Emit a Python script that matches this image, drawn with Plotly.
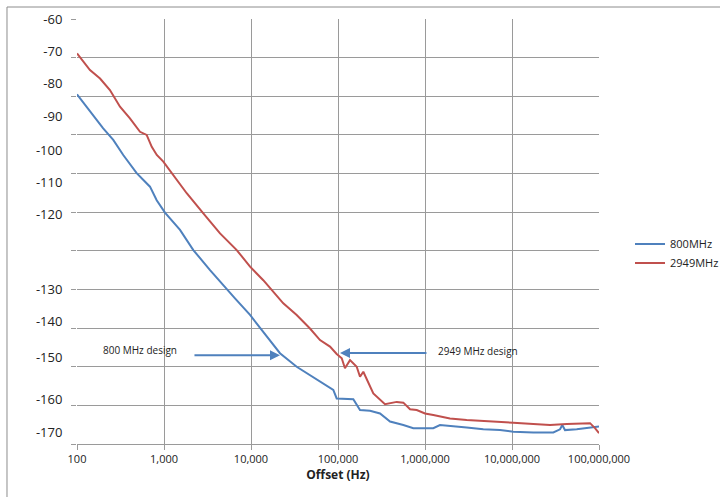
import plotly.graph_objects as go

# ---- data (offset in Hz, phase noise in dBc/Hz on the gridline scale) ----
x_800 = [100, 141, 200, 261, 340, 485, 690, 824, 1026, 1528, 2173, 3381, 5260, 6546,
         9750, 13840, 21530, 33500, 47640, 67760, 88310, 96600, 125900, 150000, 179100,
         233300, 304100, 396300, 563600, 734500, 877000, 1245000, 1486000, 1936000,
         3013000, 4677000, 7278000, 10350000, 17580000, 29850000, 35650000, 37840000,
         40640000, 55460000, 78890000, 100000000]
y_800 = [-79.5, -84.0, -88.3, -91.3, -95.2, -99.9, -103.4, -106.9, -110.1, -114.6, -119.8,
         -125.0, -129.7, -132.3, -136.6, -140.9, -146.5, -150.0, -152.1, -154.3, -156.0,
         -158.2, -158.4, -158.4, -161.2, -161.4, -162.1, -164.2, -165.1, -165.9, -165.9,
         -165.9, -165.1, -165.3, -165.7, -166.2, -166.4, -166.8, -167.0, -167.0, -166.2,
         -165.1, -166.4, -166.2, -165.7, -165.5]

x_2949 = [100, 141, 184, 239, 312, 406, 530, 632, 723, 826, 982, 1824, 2831, 4406, 6855,
          9750, 13836, 23500, 33500, 47640, 62100, 80900, 96600, 110400, 120200, 137400,
          164100, 179100, 195400, 233300, 254700, 346700, 473200, 563600, 673000, 803500,
          1000000, 1245000, 1936000, 3013000, 4677000, 7278000, 10350000, 17580000,
          27350000, 42560000, 78890000, 89950000, 100000000]
y_2949 = [-68.9, -73.2, -75.4, -78.4, -82.7, -85.7, -89.2, -90.0, -93.1, -95.2, -96.9,
          -105.1, -110.3, -115.5, -119.8, -124.1, -127.6, -133.6, -136.6, -140.1, -143.1,
          -144.8, -146.7, -147.8, -150.4, -148.3, -150.0, -152.6, -151.3, -155.2, -156.9,
          -159.7, -159.1, -159.3, -161.0, -161.2, -162.1, -162.5, -163.4, -163.8, -164.0,
          -164.2, -164.5, -164.8, -165.1, -164.8, -164.6, -165.9, -167.2]

series_names = ["800MHz", "2949MHz"]

x_tick_vals = [100, 1000, 10000, 100000, 1000000, 10000000, 100000000]
x_tick_text = ["100", "1,000", "10,000", "100,000", "1,000,000", "10,000,000", "100,000,000"]
x_grid_vals = [1000, 10000, 100000, 1000000, 10000000, 100000000]

y_grid_vals = [-60, -70, -80, -90, -100, -110, -120, -130, -140, -150, -160, -170]
y_label_text = ["-60", "-70", "-80", "-90", "-100", "-110", "-120",
                "-130", "-140", "-150", "-160", "-170"]
# where the (hand-placed) labels sit on the chart, in axis units
y_label_pos = [-60.0, -68.5, -76.6, -85.1, -93.9, -102.3, -110.6,
               -129.9, -138.3, -147.6, -158.4, -167.0]

annot_text = ["800 MHz design", "2949 MHz design"]

# ---- styling ----
BLUE = "#4f81bd"
RED = "#c0504d"
GRID = "#9a9a9a"
FONT = "Open Sans"
TXT = "#222222"

fig = go.Figure()
fig.add_trace(go.Scatter(x=x_800, y=y_800, mode="lines", name=series_names[0],
                         line=dict(color=BLUE, width=2)))
fig.add_trace(go.Scatter(x=x_2949, y=y_2949, mode="lines", name=series_names[1],
                         line=dict(color=RED, width=2)))
# invisible trace to activate the label axes
fig.add_trace(go.Scatter(x=[100], y=[-60], xaxis="x2", yaxis="y2", mode="markers",
                         marker=dict(opacity=0), showlegend=False, hoverinfo="skip"))

fig.update_layout(
    width=720, height=497,
    margin=dict(l=77, r=121, t=19, b=53, autoexpand=False),
    paper_bgcolor="white", plot_bgcolor="white",
    font=dict(family=FONT, color=TXT, size=11),
    showlegend=True,
    legend=dict(x=1.0594, y=0.505, xanchor="left", yanchor="top",
                font=dict(size=11, color=TXT), bgcolor="rgba(0,0,0,0)",
                tracegroupgap=0),
    xaxis=dict(type="log", range=[2, 8], tickvals=x_grid_vals, showticklabels=False,
               showgrid=True, gridcolor=GRID, gridwidth=1,
               ticks="outside", ticklen=5, tickcolor=GRID,
               showline=True, linecolor=GRID, linewidth=1, zeroline=False),
    xaxis2=dict(type="log", range=[2, 8], overlaying="x", side="bottom", anchor="y",
                tickvals=x_tick_vals, ticktext=x_tick_text, showgrid=False,
                ticks="outside", ticklen=5, tickcolor=GRID, zeroline=False,
                tickfont=dict(size=11, color=TXT),
                title=dict(text="<b>Offset (Hz)</b>", font=dict(size=12, color=TXT),
                           standoff=4)),
    yaxis=dict(range=[-170, -60], tickvals=y_grid_vals, showticklabels=False,
               showgrid=True, gridcolor=GRID, gridwidth=1.3,
               ticks="outside", ticklen=5, tickcolor=GRID, zeroline=False),
    yaxis2=dict(range=[-170, -60], overlaying="y", side="left", anchor="x",
                tickvals=y_label_pos, ticktext=y_label_text,
                showgrid=False, zeroline=False, ticks="outside", ticklen=11,
                tickcolor="rgba(0,0,0,0)", tickfont=dict(size=13, color=TXT)),
)

# chart area border (top and left visible)
fig.add_shape(type="line", xref="paper", yref="paper", x0=-0.1341, x1=1.25,
              y0=1.0282, y1=1.0282, line=dict(color="#8c8c8c", width=1))
fig.add_shape(type="line", xref="paper", yref="paper", x0=-0.1341, x1=-0.1341,
              y0=1.0282, y1=-0.2, line=dict(color="#8c8c8c", width=1))

# design annotations with arrows
fig.add_annotation(x=4.333, y=-147.0, ax=3.333, ay=-147.0, xref="x", yref="y",
                   axref="x", ayref="y", text="", showarrow=True, arrowhead=2,
                   arrowsize=1, arrowwidth=2, arrowcolor=BLUE)
fig.add_annotation(x=2.724, y=-145.7, xref="x", yref="y", text=annot_text[0],
                   showarrow=False, font=dict(size=10, color=TXT))
fig.add_annotation(x=5.023, y=-146.45, ax=6.034, ay=-146.45, xref="x", yref="y",
                   axref="x", ayref="y", text="", showarrow=True, arrowhead=2,
                   arrowsize=1, arrowwidth=2, arrowcolor=BLUE)
fig.add_annotation(x=6.609, y=-145.9, xref="x", yref="y", text=annot_text[1],
                   showarrow=False, font=dict(size=10, color=TXT))

fig.write_html("out.html")
